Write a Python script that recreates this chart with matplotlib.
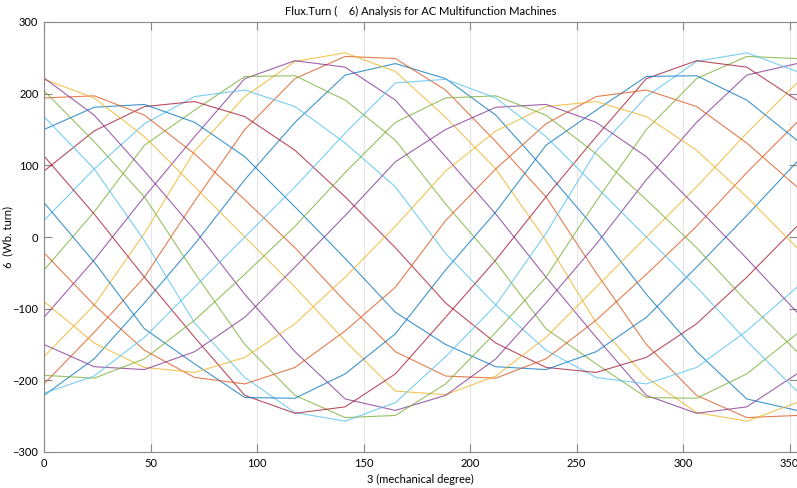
import matplotlib.pyplot as plt
import numpy as np

# mechanical angle samples (deg)
theta = [0, 23.56, 47.12, 70.69, 94.25, 117.81, 141.37, 164.93,
         188.50, 212.06, 235.62, 259.18, 282.74, 306.31, 329.87, 353.43]

# flux per turn for each coil (Wb.turn)
psi_01 = [-221, -170, -92, -10, 80, 160, 226, 242, 221, 170, 92, 10, -80, -160, -226, -242]
psi_02 = [-205, -133, -56, 50, 150, 221, 252, 249, 205, 133, 56, -50, -150, -221, -252, -249]
psi_03 = [-167, -95, 5, 120, 196, 245, 257, 231, 167, 95, -5, -120, -196, -245, -257, -231]
psi_04 = [-112, -32, 56, 140, 221, 246, 237, 191, 112, 32, -56, -140, -221, -246, -237, -191]
psi_05 = [-46, 35, 128, 177, 224, 225, 191, 135, 46, -35, -128, -177, -224, -225, -191, -135]
psi_06 = [23, 95, 158, 196, 205, 182, 131, 70, -23, -95, -158, -196, -205, -182, -131, -70]
psi_07 = [92, 148, 182, 189, 168, 121, 56, -15, -92, -148, -182, -189, -168, -121, -56, 15]
psi_08 = [150, 181, 185, 160, 112, 42, -30, -105, -150, -181, -185, -160, -112, -42, 30, 105]
psi_09 = [194, 197, 170, 116, 52, -15, -90, -160, -194, -197, -170, -116, -52, 15, 90, 160]
psi_10 = [220, 194, 140, 70, 0, -70, -145, -215, -220, -194, -140, -70, 0, 70, 145, 215]
psi_11 = [222, 170, 92, 10, -80, -160, -226, -242, -221, -170, -92, -10, 80, 160, 226, 242]
psi_12 = [204, 133, 56, -50, -150, -221, -252, -249, -205, -133, -56, 50, 150, 221, 252, 249]
psi_13 = [168, 95, -5, -120, -196, -245, -257, -231, -167, -95, 5, 120, 196, 245, 257, 231]
psi_14 = [113, 32, -56, -140, -221, -246, -237, -191, -112, -32, 56, 140, 221, 246, 237, 191]
psi_15 = [48, -35, -128, -177, -224, -225, -191, -135, -46, 35, 128, 177, 224, 225, 191, 135]
psi_16 = [-22, -95, -158, -196, -205, -182, -131, -70, 23, 95, 158, 196, 205, 182, 131, 70]
psi_17 = [-90, -148, -182, -189, -168, -121, -56, 15, 92, 148, 182, 189, 168, 121, 56, -15]
psi_18 = [-150, -181, -185, -160, -112, -42, 30, 105, 150, 181, 185, 160, 112, 42, -30, -105]
psi_19 = [-193, -197, -170, -116, -52, 15, 90, 160, 194, 197, 170, 116, 52, -15, -90, -160]
psi_20 = [-218, -194, -140, -70, 0, 70, 145, 215, 220, 194, 140, 70, 0, -70, -145, -215]

coils = [psi_01, psi_02, psi_03, psi_04, psi_05, psi_06, psi_07, psi_08, psi_09, psi_10,
         psi_11, psi_12, psi_13, psi_14, psi_15, psi_16, psi_17, psi_18, psi_19, psi_20]

# matlab default line colours
colors = ['#0072BD', '#D95319', '#EDB120', '#7E2F8E', '#77AC30', '#4DBEEE', '#A2142F']

plt.rcParams['font.family'] = ['Lato', 'DejaVu Sans']

fig = plt.figure(figsize=(7.97, 4.88), dpi=100)
ax = fig.add_axes([44 / 797, 36 / 488, 753 / 797, 430 / 488])

for n, psi in enumerate(coils):
    ax.plot(theta, psi, color=colors[n % 7], lw=0.8, alpha=0.75)

ax.set_xlim(0, 353.43)
ax.set_ylim(-300, 300)
ax.set_xticks(np.arange(0, 351, 50))
ax.set_yticks(np.arange(-300, 301, 100))
ax.grid(True, axis='x', color='#e6e6e6', lw=0.8)
ax.tick_params(direction='in', length=6, width=0.8, color='#888888',
               labelsize=8, top=True, right=True, pad=4)
for s in ax.spines.values():
    s.set_color('#888888')
    s.set_linewidth(0.8)

ax.set_title('Flux.Turn (    6) Analysis for AC Multifunction Machines', fontsize=8, pad=5)
ax.set_xlabel('3 (mechanical degree)', fontsize=8, labelpad=4)
ax.set_ylabel('6  (Wb. turn)', fontsize=8)
ax.yaxis.set_label_coords(-0.041, 0.5)

fig.savefig('out.png', dpi=100)
